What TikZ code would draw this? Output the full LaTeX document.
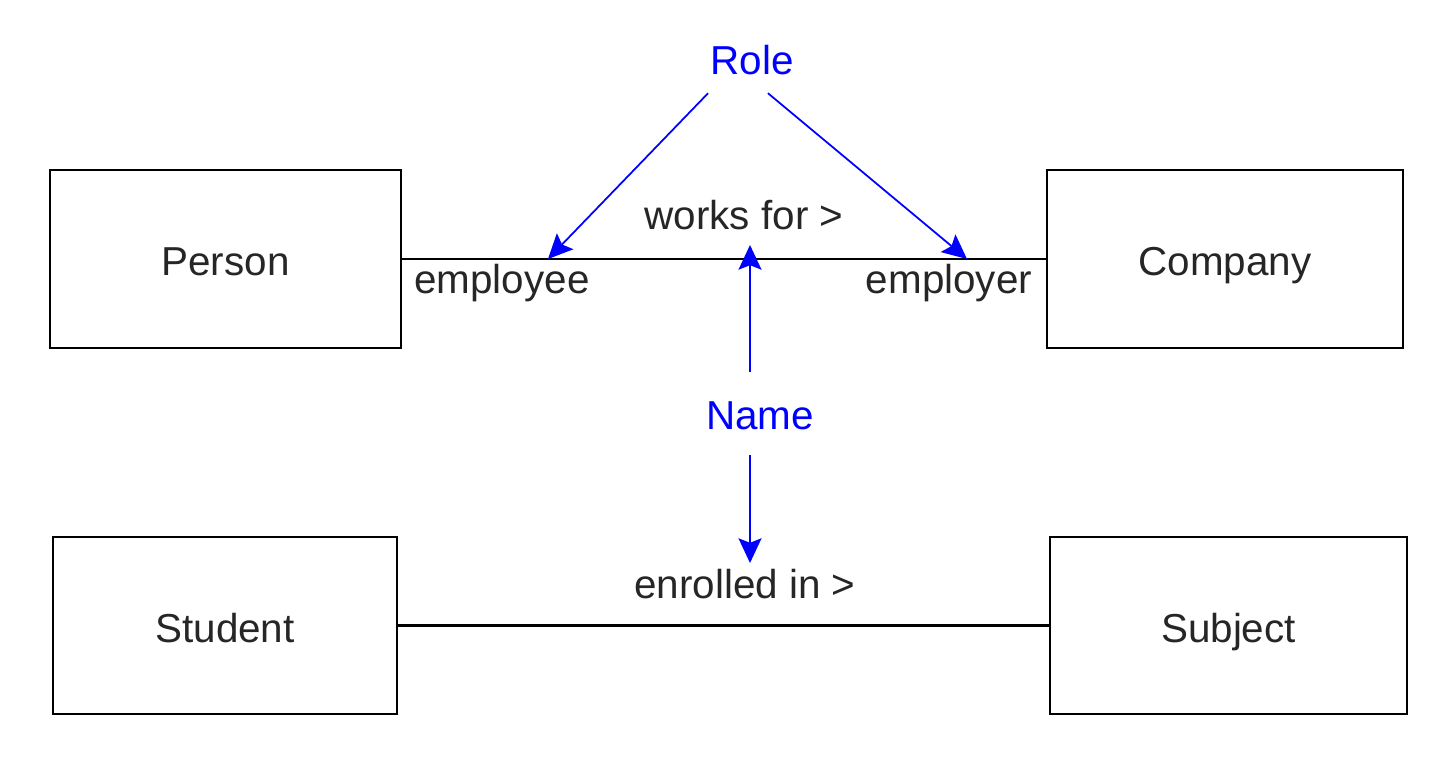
\documentclass[tikz,border=0pt]{standalone}
\usepackage{fontspec}
\setmainfont{Liberation Sans}
\usetikzlibrary{arrows.meta,positioning}
\tikzset{
    %Define standard arrow tip
    >={Stealth[length=14pt,width=13pt,inset=2.5pt]},
    %Define style for boxes
    entity/.style={
           rectangle,
           draw=black,
           line width=1.2pt,
           text=black!85,
           text height=0.98em,
           text depth=0.14em,
           minimum height=3.56cm},
    % Define style for plain labels
    lbl/.style={
           text=black!85,
           inner sep=0pt},
    % Define style for blue notes
    note/.style={
           text=blue,
           inner sep=0pt},
    % Define arrow style
    pil/.style={
           ->,
           draw=blue,
           line width=1pt},
    pilv/.style={
           ->,
           draw=blue,
           line width=1.5pt}
}

\begin{document}
\begin{tikzpicture}[x=0.02cm,y=-0.02cm]
  \fontsize{23}{27}\selectfont
  \useasboundingbox (0,0) rectangle (1450,760);
  % boxes
  \node[entity,minimum width=7.02cm] (person) at (225.5,259) {Person};
  \node[entity,minimum width=7.12cm] (company) at (1225,259) {Company};
  \node[entity,minimum width=6.88cm,minimum height=3.54cm] (student) at (225,625.5) {Student};
  \node[entity,minimum width=7.14cm,minimum height=3.54cm] (subject) at (1228.5,625.5) {Subject};
  % relations
  \draw[line width=1.4pt] (person) -- (company);
  \draw[line width=1.4pt] (student) -- (subject);
  \node[lbl] (works) at (744,215) {works for >};
  \node[lbl] (enrolled) at (745,584) {enrolled in >};
  \node[lbl] (employee) at (502,283) {employee};
  \node[lbl] (employer) at (949,283) {employer};
  % notes
  \node[note] (role) at (752,60) {Role};
  \node[note] (name) at (760,416) {Name};
  \coordinate (ee) at (548,259);
  \coordinate (er) at (967,259);
  \coordinate (wf) at (750,245);
  \coordinate (ei) at (750,563);
  \draw[pil] (role.south west)++(-2,18) coordinate (r1) -- (ee);
  \draw[pil] (role.south east)++(-26,18) coordinate (r2) -- (er);
  \draw[pilv] (750,372) coordinate (n1) -- (wf);
  \draw[pilv] (750,455) coordinate (n2) -- (ei);
\end{tikzpicture}
\end{document}
